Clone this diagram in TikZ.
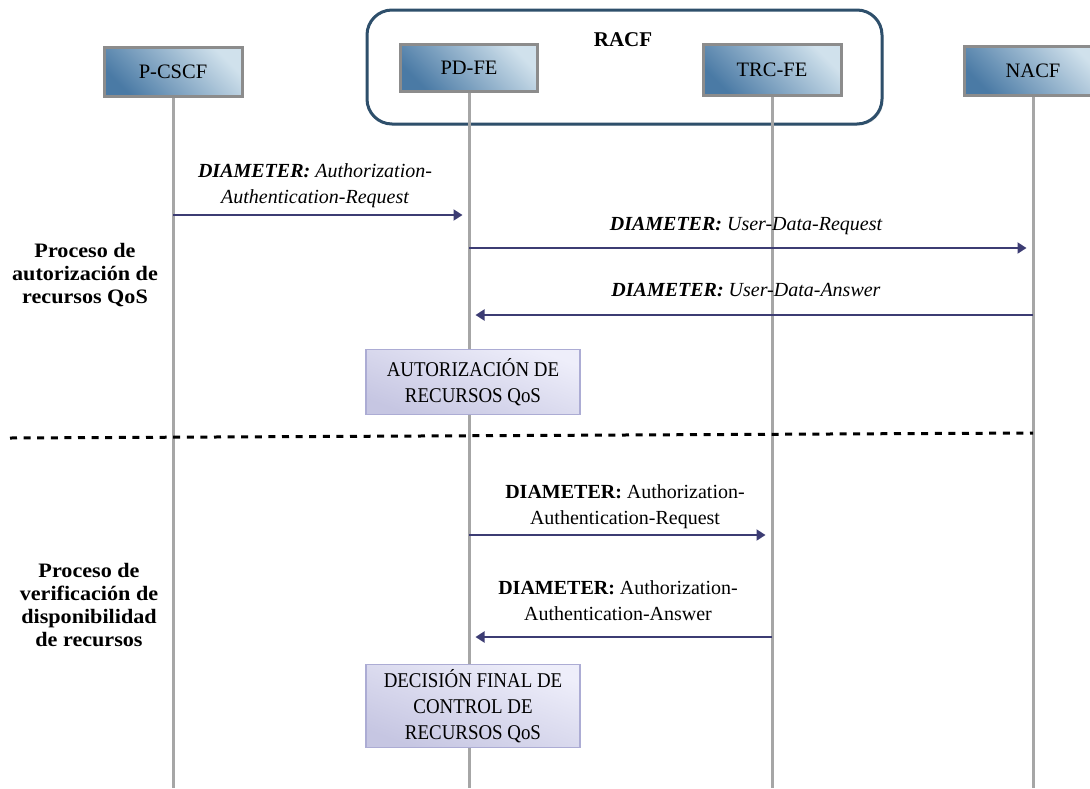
\documentclass[tikz,border=0pt]{standalone}
\usepackage{fontspec}
\setmainfont{Liberation Serif}
\newfontfamily\boxfont[FakeStretch=0.9]{Liberation Serif}
\newfontfamily\sidefont[FakeStretch=1.08]{Liberation Serif}
\usetikzlibrary{arrows.meta,shadows}

\definecolor{hdark}{RGB}{74,122,165}
\definecolor{hlight}{RGB}{208,225,236}
\definecolor{hborder}{RGB}{140,140,140}
\definecolor{lavtop}{RGB}{238,238,250}
\definecolor{lavbot}{RGB}{198,198,226}
\definecolor{lavborder}{RGB}{172,172,212}
\definecolor{racfblue}{RGB}{46,79,107}
\definecolor{msgblue}{RGB}{60,60,115}
\definecolor{lifegray}{RGB}{166,166,166}

\tikzset{
  txt/.style={font=\fontsize{20}{25}\selectfont, align=center, inner sep=0pt},
  entity/.style={draw=hborder, line width=3pt, minimum width=138pt, minimum height=49pt,
    inner sep=0pt, font=\fontsize{20.5}{24}\selectfont,
    top color=hlight, bottom color=hdark, shading angle=-45,
    drop shadow={opacity=0.25, shadow xshift=1.5pt, shadow yshift=-1.5pt}},
  actionbox/.style={draw=lavborder, line width=1.2pt, minimum width=214pt,
    inner sep=0pt, align=center, font=\boxfont\fontsize{21}{26}\selectfont,
    top color=lavtop, bottom color=lavbot, shading angle=-20},
  lifeline/.style={draw=lifegray, line width=3pt},
  msg/.style={draw=msgblue, line width=2pt,
    -{Triangle[length=9pt,width=11pt,sep=5pt]}, shorten >=1.5pt},
  sidelabel/.style={font=\sidefont\bfseries\fontsize{20.5}{23}\selectfont, align=center, inner sep=0pt},
}

\begin{document}
\begin{tikzpicture}[x=1pt,y=-1pt]
\useasboundingbox (0,0) rectangle (1090,788);
\clip (0,0) rectangle (1090,788);

% RACF group frame
\node[draw=racfblue, line width=3pt, rounded corners=25pt, minimum width=515pt,
  minimum height=114pt, inner sep=0pt,
  drop shadow={opacity=0.2, shadow xshift=1.5pt, shadow yshift=-1.5pt}, fill=white]
  (racf) at (624.5,67) {};
\node[txt, font=\bfseries\fontsize{21}{25}\selectfont] (racflabel) at (623,40) {RACF};

% entity positions (lifelines hang from them)
\coordinate (cp) at (173,72);
\coordinate (cd) at (469,68);
\coordinate (ct) at (772,70);
\coordinate (cn) at (1033,71);

% lifelines
\draw[lifeline] (cp) -- (cp |- 0,788);
\draw[lifeline] (cd) -- (cd |- 0,788);
\draw[lifeline] (ct) -- (ct |- 0,788);
\draw[lifeline] (cn) -- (cn |- 0,788);

% entities
\node[entity] (pcscf) at (cp) {P-CSCF};
\node[entity, minimum width=137pt, minimum height=47pt] (pdfe) at (cd) {PD-FE};
\node[entity, minimum height=51pt] (trcfe) at (ct) {TRC-FE};
\node[entity] (nacf) at (cn) {NACF};

% QoS authorization phase
\draw[msg] (pcscf |- 0,215) -- (pdfe |- 0,215);
\node[txt, font=\itshape\fontsize{20}{26}\selectfont] (m1) at (315,186)
  {\textbf{DIAMETER:} Authorization-\\Authentication-Request};

\draw[msg] (pdfe |- 0,248) -- (nacf |- 0,248);
\node[txt, font=\itshape\fontsize{20}{25}\selectfont] (m2) at (746,226)
  {\textbf{DIAMETER:} User-Data-Request};

\draw[msg] (nacf |- 0,315) -- (pdfe |- 0,315);
\node[txt, font=\itshape\fontsize{20}{25}\selectfont] (m3) at (746,290)
  {\textbf{DIAMETER:} User-Data-Answer};

\node[actionbox, minimum height=65pt] (auth) at (473,382)
  {AUTORIZACIÓN DE\\RECURSOS QoS};

% phase separator
\coordinate (sepL) at (10,438);
\coordinate (sepR) at (1033,433);
\draw[line width=3pt, dash pattern=on 7pt off 6.6pt] (sepL) -- (sepR);

% resource availability phase
\draw[msg] (pdfe |- 0,535) -- (trcfe |- 0,535);
\node[txt, font=\fontsize{20}{26}\selectfont] (m4) at (625,507)
  {\textbf{DIAMETER:} Authorization-\\Authentication-Request};

\draw[msg] (trcfe |- 0,637) -- (pdfe |- 0,637);
\node[txt, font=\fontsize{20}{26}\selectfont] (m5) at (618,601)
  {\textbf{DIAMETER:} Authorization-\\Authentication-Answer};

\node[actionbox, minimum height=83pt] (decision) at (473,706)
  {DECISIÓN FINAL DE\\CONTROL DE\\RECURSOS QoS};

% phase labels
\node[sidelabel] (phase1) at (85,275) {Proceso de\\autorización de\\recursos QoS};
\node[sidelabel] (phase2) at (89,605) {Proceso de\\verificación de\\disponibilidad\\de recursos};
\end{tikzpicture}
\end{document}
